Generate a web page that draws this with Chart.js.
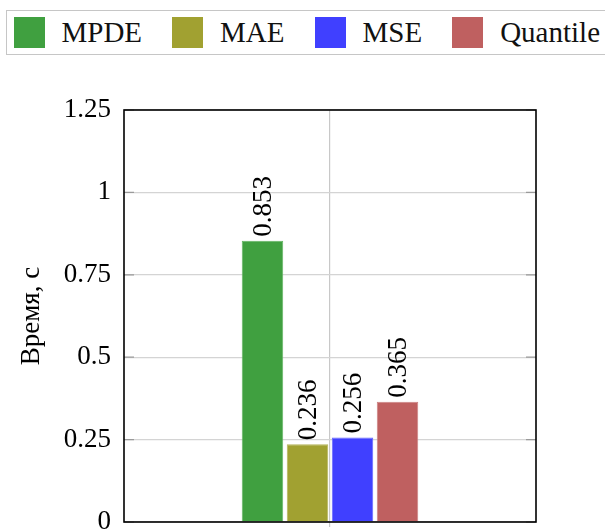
<!DOCTYPE html>
<html>
<head>
<meta charset="utf-8">
<script src="https://cdn.jsdelivr.net/npm/chart.js@4.4.1/dist/chart.umd.min.js"></script>
<style>
  html, body { margin: 0; padding: 0; background: #fff; overflow: hidden; width: 605px; height: 529px; }
  #wrap { position: relative; width: 605px; height: 560px; }
  #chart { position: absolute; left: 0; top: 0; }
  #legend {
    position: absolute; left: 6px; top: 10px; width: 640px; height: 43px;
    border: 1.5px solid #c6c6c6; background: #fff;
    font-family: "Liberation Serif", serif; font-size: 29px; color: #111;
    display: flex; align-items: center; box-sizing: content-box;
    padding-left: 6.5px; gap: 30px;
  }
  .item { display: flex; align-items: center; }
  .swatch { width: 31px; height: 31px; margin-right: 17px; }
</style>
</head>
<body>
<div id="wrap">
  <canvas id="chart" width="605" height="560"></canvas>
  <div id="legend"></div>
</div>
<script>
// one group on the x axis, four methods
const categories = [''];
const seriesNames = ['MPDE', 'MAE', 'MSE', 'Quantile'];
const mpdeValues = [0.853];
const maeValues = [0.236];
const mseValues = [0.256];
const quantileValues = [0.365];
const yTicks = [0, 0.25, 0.5, 0.75, 1, 1.25];

const fillColors = ['#40a040', '#a1a131', '#4040ff', '#bf6060'];
const edgeColors = ['#62b462', '#b4b458', '#6464ff', '#cc8080'];
const serif = '"Liberation Serif", serif';

// html legend
document.getElementById('legend').innerHTML = seriesNames.map((name, i) =>
    `<div class="item"><div class="swatch" style="background:${fillColors[i]}"></div><span>${name}</span></div>`
).join('');

const seriesValues = [mpdeValues, maeValues, mseValues, quantileValues];

// inner tick marks + black frame around the plot
const framePlugin = {
    id: 'frame',
    beforeDatasetsDraw(chart) {
        const { ctx, chartArea: a, scales } = chart;
        ctx.save();
        ctx.strokeStyle = '#9a9a9a';
        ctx.lineWidth = 1.2;
        scales.y.ticks.forEach(t => {
            const y = scales.y.getPixelForValue(t.value);
            ctx.beginPath();
            ctx.moveTo(a.left, y); ctx.lineTo(a.left + 10, y);
            ctx.moveTo(a.right - 10, y); ctx.lineTo(a.right, y);
            ctx.stroke();
        });
        ctx.restore();
    },
    afterDatasetsDraw(chart) {
        const { ctx, chartArea: a } = chart;
        ctx.save();
        ctx.strokeStyle = '#000';
        ctx.lineWidth = 1.6;
        ctx.strokeRect(a.left, a.top, a.right - a.left, a.bottom - a.top);
        ctx.restore();
    }
};

// rotated value labels above each bar
const valueLabels = {
    id: 'valueLabels',
    afterDatasetsDraw(chart) {
        const { ctx } = chart;
        ctx.save();
        ctx.font = `27px ${serif}`;
        ctx.fillStyle = '#000';
        ctx.textAlign = 'left';
        ctx.textBaseline = 'middle';
        chart.data.datasets.forEach((ds, i) => {
            chart.getDatasetMeta(i).data.forEach((bar, j) => {
                ctx.save();
                ctx.translate(bar.x, bar.y - 4);
                ctx.rotate(-Math.PI / 2);
                ctx.fillText(String(ds.data[j]), 0, 1);
                ctx.restore();
            });
        });
        ctx.restore();
    }
};

new Chart(document.getElementById('chart'), {
    type: 'bar',
    data: {
        labels: categories,
        datasets: seriesNames.map((name, i) => ({
            label: name,
            data: seriesValues[i],
            backgroundColor: fillColors[i],
            borderColor: edgeColors[i],
            borderWidth: 1,
            categoryPercentage: 0.437,
            barPercentage: 0.922
        }))
    },
    options: {
        responsive: false,
        animation: false,
        layout: { padding: { top: 110, right: 69, left: 0, bottom: 0 } },
        plugins: {
            legend: { display: false },
            tooltip: { enabled: false }
        },
        scales: {
            x: {
                offset: true,
                grid: { offset: false, color: '#c8c8c8', lineWidth: 1.2, drawTicks: true, tickLength: 5 },
                border: { display: false },
                ticks: { display: false },
                afterFit: s => { s.height = 38; }
            },
            y: {
                min: 0,
                max: 1.25,
                afterBuildTicks: s => { s.ticks = yTicks.map(v => ({ value: v })); },
                ticks: {
                    color: '#000',
                    padding: 13,
                    font: { family: serif, size: 27 },
                    callback: v => String(v)
                },
                grid: { color: '#d4d4d4', lineWidth: 1.2, drawTicks: false },
                border: { display: false },
                title: {
                    display: true,
                    text: 'Время, с',
                    color: '#000',
                    font: { family: serif, size: 27 },
                    padding: { top: 16, bottom: 0 }
                },
                afterFit: s => { s.width = 124; }
            }
        }
    },
    plugins: [framePlugin, valueLabels]
});
</script>
</body>
</html>
